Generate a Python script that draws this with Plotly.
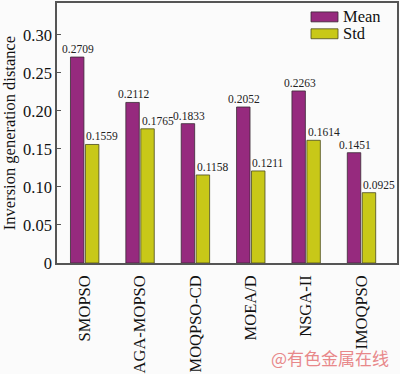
import plotly.graph_objects as go

categories = ["SMOPSO", "AGA-MOPSO", "MOQPSO-CD", "MOEA/D", "NSGA-II", "IMOQPSO"]
mean_vals = [0.2709, 0.2112, 0.1833, 0.2052, 0.2263, 0.1451]
std_vals = [0.1559, 0.1765, 0.1158, 0.1211, 0.1614, 0.0925]
y_ticks = [0, 0.05, 0.10, 0.15, 0.20, 0.25, 0.30]
y_tick_text = ["0", "0.05", "0.10", "0.15", "0.20", "0.25", "0.30"]
series_names = ["Mean", "Std"]
series_colors = ["#962A7E", "#C8C818"]
edge_colors = ["#3a2a35", "#4a4a20"]

FONT = "Liberation Serif"

W, H = 400, 374
L, R, T, B = 57, 3, 1, 111
PW, PH = W - L - R, H - T - B


def px_to_paper(px, py):
    return (px - L) / PW, (H - B - py) / PH


fig = go.Figure()
for name, vals, col, edge in zip(series_names, [mean_vals, std_vals], series_colors, edge_colors):
    fig.add_trace(go.Bar(
        x=categories, y=vals, name=name,
        marker=dict(color=col, line=dict(color=edge, width=0.8)),
        hoverinfo="x+y",
    ))

shapes = []
annotations = []
# value labels: mean centred over its bar, std starting at its bar's left edge
for cat, v in zip(categories, mean_vals):
    annotations.append(dict(text=f"{v:.4f}", x=cat, y=v, xref="x", yref="y", showarrow=False,
                            xanchor="center", yanchor="bottom", xshift=-6.5, yshift=0,
                            font=dict(family=FONT, size=11.5, color="#222")))
for cat, v in zip(categories, std_vals):
    annotations.append(dict(text=f"{v:.4f}", x=cat, y=v, xref="x", yref="y", showarrow=False,
                            xanchor="left", yanchor="bottom", xshift=-0.5, yshift=0,
                            font=dict(family=FONT, size=11.5, color="#222")))

# manual legend (wide swatches, as in the reference)
for i, (name, col, edge) in enumerate(zip(series_names, series_colors, edge_colors)):
    top = 10 + i * 17
    x0, y1 = px_to_paper(311, top)
    x1, y0 = px_to_paper(338, top + 10)
    shapes.append(dict(type="rect", xref="paper", yref="paper", x0=x0, x1=x1, y0=y0, y1=y1,
                       fillcolor=col, line=dict(color=edge, width=0.8)))
    tx, ty = px_to_paper(341, top + 5)
    annotations.append(dict(text=name, x=tx, y=ty, xref="paper", yref="paper", showarrow=False,
                            xanchor="left", yanchor="middle", height=15,
                            font=dict(family=FONT, size=16.5, color="#111")))

wx, wy = px_to_paper(391, 358)
annotations.append(dict(
    text="@有色金属在线", x=wx, y=wy, xref="paper", yref="paper",
    showarrow=False, xanchor="right", yanchor="middle",
    font=dict(family="Noto Sans CJK SC", size=17, color="#E8888A"),
))

fig.update_layout(
    width=W, height=H,
    margin=dict(l=L, r=R, t=T, b=B, pad=0),
    paper_bgcolor="#fbfbfb", plot_bgcolor="#fbfbfb",
    barmode="group", bargap=0.46, bargroupgap=0.1,
    font=dict(family=FONT, size=15, color="#111"),
    showlegend=False,
    xaxis=dict(
        tickangle=-90, showline=True, linecolor="#555", linewidth=1.5,
        mirror=True, ticks="", tickfont=dict(family=FONT, size=16.5),
        ticklabelstandoff=4,
    ),
    yaxis=dict(
        range=[0, 0.342], tickvals=y_ticks, ticktext=y_tick_text,
        showline=True, linecolor="#555", linewidth=1.5, mirror=True,
        ticks="inside", ticklen=4, tickcolor="#555", showgrid=False,
        zeroline=False, tickfont=dict(family=FONT, size=16.5),
        title=dict(text="Inversion generation distance",
                   font=dict(family=FONT, size=16.5), standoff=8),
    ),
    shapes=shapes,
    annotations=annotations,
)

fig.write_html("out.html", config={"displayModeBar": False})
with open("out.html", "r", encoding="utf-8") as f:
    html = f.read()
html = html.replace("<head>", "<head><style>html,body{margin:0;padding:0;overflow:hidden;}</style>", 1)
with open("out.html", "w", encoding="utf-8") as f:
    f.write(html)
